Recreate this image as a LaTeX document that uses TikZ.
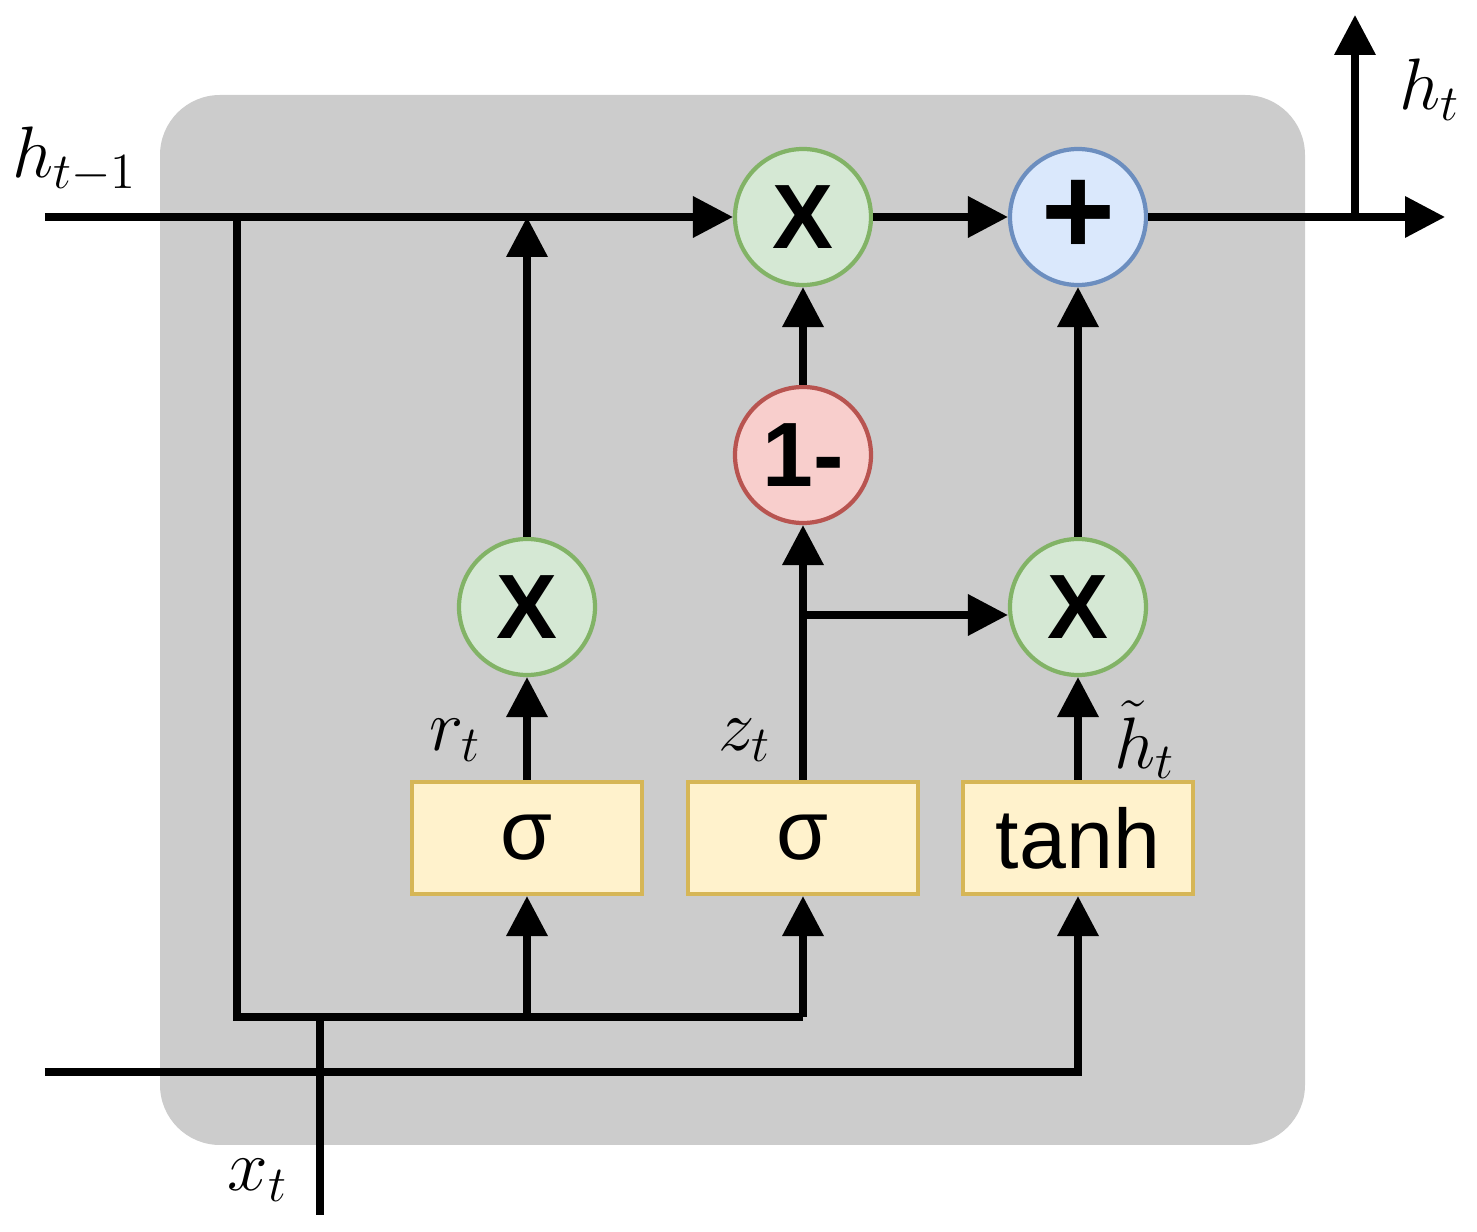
\documentclass[tikz,border=0pt]{standalone}
\usepackage{fontspec}
\setsansfont{Liberation Sans}
\usetikzlibrary{arrows.meta}
\definecolor{gfill}{HTML}{D5E8D4}\definecolor{gline}{HTML}{82B366}
\definecolor{bfill}{HTML}{DAE8FC}\definecolor{bline}{HTML}{6C8EBF}
\definecolor{rfill}{HTML}{F8CECC}\definecolor{rline}{HTML}{B85450}
\definecolor{yfill}{HTML}{FFF2CC}\definecolor{yline}{HTML}{D6B656}
\tikzset{
  op/.style={circle, draw=#1line, fill=#1fill, line width=1.2pt, minimum size=1.36cm, inner sep=0pt,
    font=\fontsize{26}{30}\selectfont\sffamily\bfseries},
  gate/.style={draw=yline, fill=yfill, line width=1.2pt, minimum width=2.3cm, minimum height=1.12cm,
    font=\fontsize{24}{28}\selectfont\sffamily},
  flow/.style={line width=2pt, -{Triangle[length=0.4cm,width=0.4cm]}},
  wire/.style={line width=2pt},
  lab/.style={font=\fontsize{22}{26}\selectfont}
}
\begin{document}
\begin{tikzpicture}
    \useasboundingbox (0,0) rectangle (14.77,12.32);
    \fill[gray!40, rounded corners=0.6cm] (1.6,0.87) rectangle (13.05,11.37);
    % nodes
    \node[op=g] (mulh) at (8.03,10.15) {X};
    \node[op=b] (add) at (10.78,10.15) {\fontsize{36}{40}\selectfont +};
    \node[op=r] (inv) at (8.03,7.77) {1-};
    \node[op=g] (mulr) at (5.27,6.25) {X};
    \node[op=g] (mulz) at (10.78,6.25) {X};
    \node[gate] (sigr) at (5.27,3.94) {σ};
    \node[gate] (sigz) at (8.03,3.94) {σ};
    \node[gate] (cand) at (10.78,3.94) {tanh};
    % coordinates
    \coordinate (hin) at (0.45,10.15);
    \coordinate (hout) at (14.45,10.15);
    \coordinate (htop) at (13.55,12.17);
    \coordinate (hsplit) at (13.55,10.15);
    \coordinate (hdown) at (2.37,10.15);
    \coordinate (bus) at (2.37,2.15);
    \coordinate (busr) at (5.27,2.15);
    \coordinate (busz) at (8.03,2.15);
    \coordinate (xin) at (0.45,1.6);
    \coordinate (xc) at (10.78,1.6);
    \coordinate (xbot) at (3.2,0.17);
    \coordinate (xjoin) at (3.2,2.15);
    \coordinate (rjoin) at (5.27,10.15);
    \coordinate (zsplit) at (8.03,6.17);
    % top line
    \draw[flow] (hin) -- (mulh);
    \draw[flow] (mulh) -- (add);
    \draw[flow] (add) -- (hout);
    \draw[flow] (hsplit) -- (htop);
    % inputs
    \draw[wire] (hdown) -- (bus) -- (busz);
    \draw[flow] (busr) -- (sigr);
    \draw[flow] (busz) -- (sigz);
    \draw[wire] (xbot) -- (xjoin);
    \draw[flow] (xin) -- (xc) -- (cand);
    % gates
    \draw[flow] (sigr) -- (mulr);
    \draw[flow] (mulr) -- (rjoin);
    \draw[flow] (sigz) -- (inv);
    \draw[flow] (zsplit) -- (zsplit -| mulz.west);
    \draw[flow] (inv) -- (mulh);
    \draw[flow] (cand) -- (mulz);
    \draw[flow] (mulz) -- (add);
    % labels
    \node[lab] (lhin) at (0.75,10.72) {$h_{t-1}$};
    \node[lab] (lhout) at (14.3,11.42) {$h_t$};
    \node[lab] (lx) at (2.58,0.52) {$x_t$};
    \node[lab] (lr) at (4.55,4.92) {$r_t$};
    \node[lab] (lz) at (7.45,4.92) {$z_t$};
    \node[lab] (lh) at (11.45,4.92) {$\tilde{h}_t$};
\end{tikzpicture}
\end{document}
